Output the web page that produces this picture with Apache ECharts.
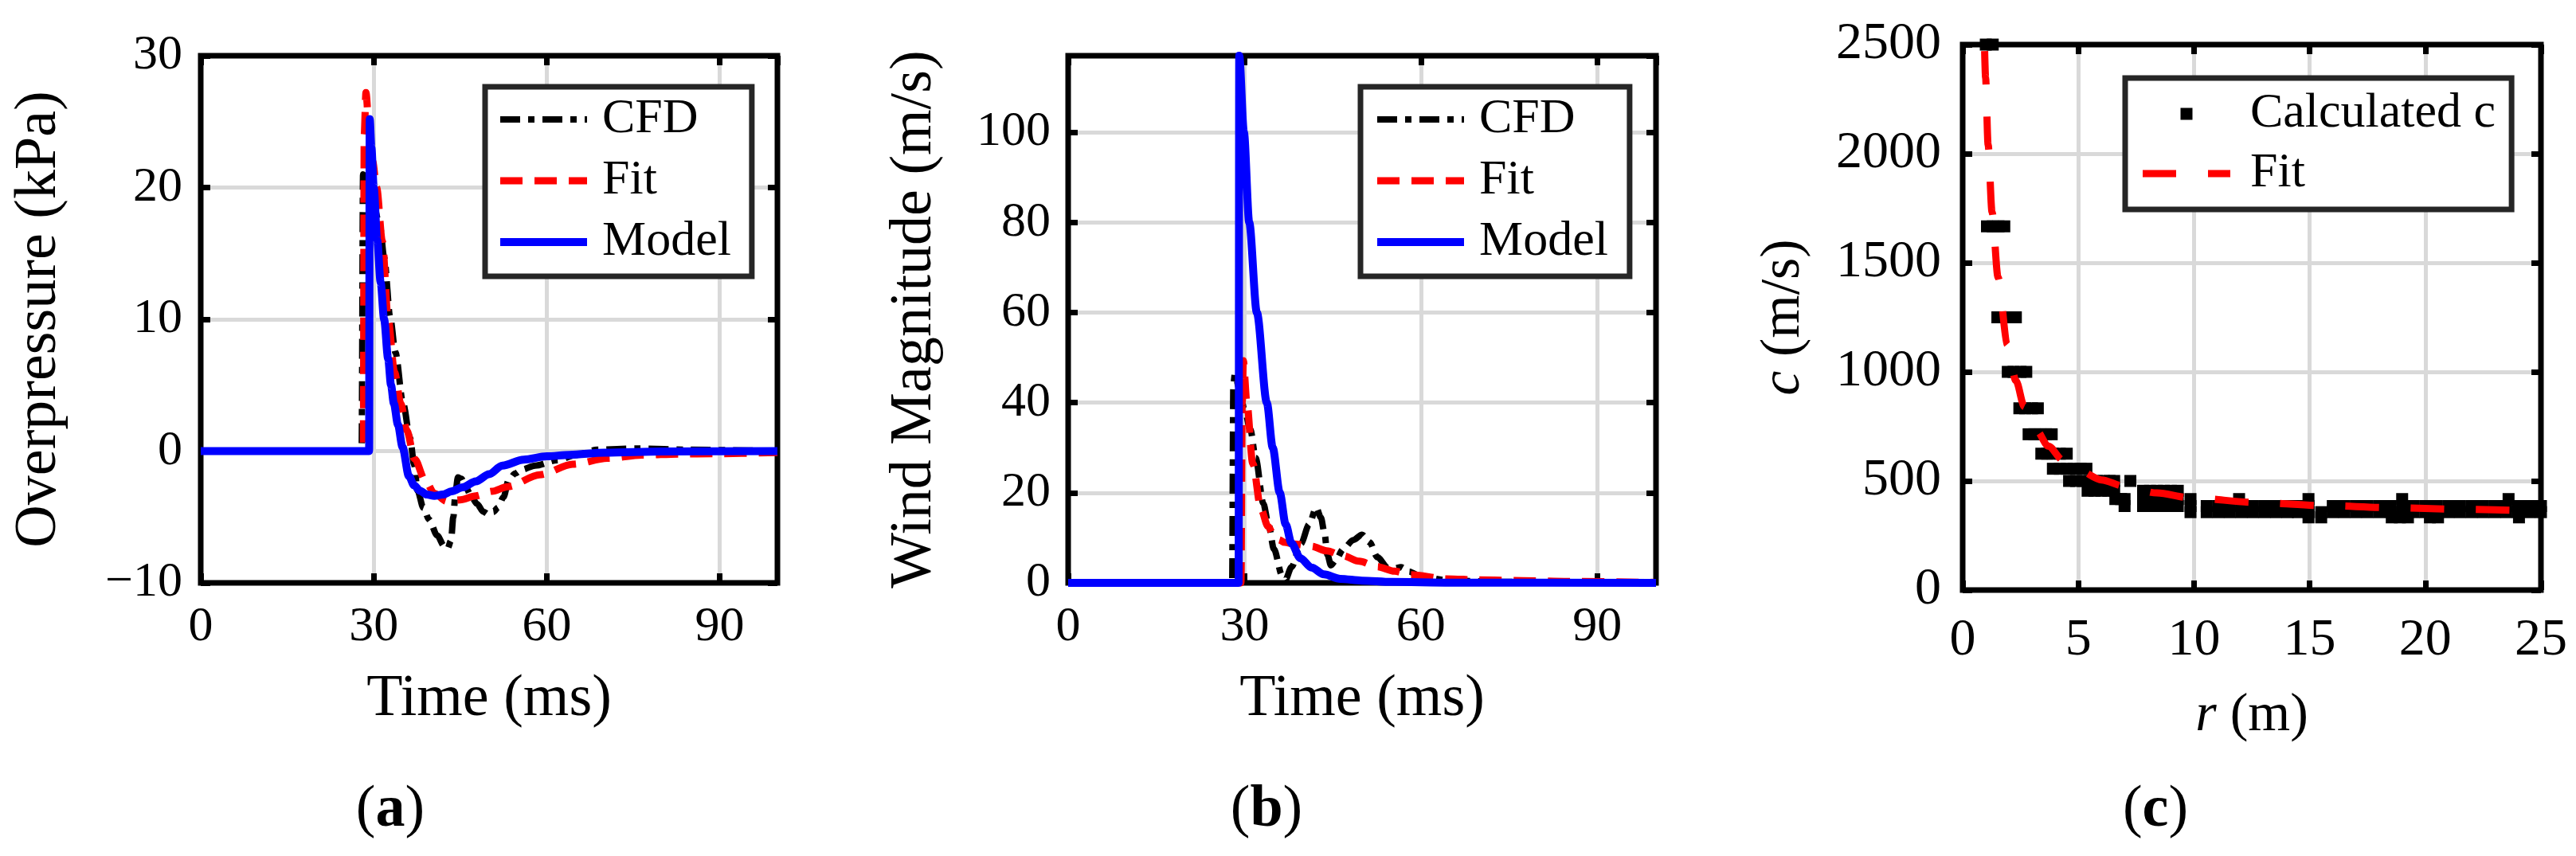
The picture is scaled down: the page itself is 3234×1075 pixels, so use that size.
<!DOCTYPE html>
<html>
<head>
<meta charset="utf-8">
<title>Overpressure, wind magnitude and propagation speed</title>
<script src="https://cdn.jsdelivr.net/npm/echarts@6/dist/echarts.min.js"></script>
<style>
  html, body { margin: 0; padding: 0; background: #fff; }
  #chart { width: 3234px; height: 1075px; }
</style>
</head>
<body>
<div id="chart"></div>
<script>
// (a) overpressure (kPa) against time (ms)
var aCfdT = [0, 27.9, 28.15, 29.0, 30.0, 31.1, 31.8, 32.9, 33.75, 35.1, 36.3, 37.0, 37.6, 38.6, 39.6, 41.0, 42.2, 42.8, 43.4, 43.8, 44.2, 44.6, 45.2, 46.0, 47.0, 47.9, 49.0, 49.9, 50.8, 51.5, 52.5, 53.4, 54.5, 55.7, 58.0, 61.8, 65.0, 68.7, 75.7, 85, 95, 100];
var aCfdV = [0, 0, 21.0, 20.2, 18.6, 17.0, 14.7, 10.0, 7.5, 3.6, 1.0, -1.0, -3.0, -4.3, -5.2, -6.4, -7.2, -7.4, -6.8, -5.0, -3.0, -2.0, -2.1, -2.8, -3.5, -4.0, -4.6, -4.8, -4.6, -4.3, -3.5, -2.2, -1.7, -1.4, -1.1, -0.7, -0.3, 0.1, 0.2, 0.1, 0.05, 0];
var aFitT = [0, 28.2, 28.35, 28.65, 29.2, 29.8, 30.5, 31.5, 32.5, 33.6, 34.7, 35.7, 37.1, 38.9, 40.5, 42.6, 45.0, 47.7, 50.5, 53.2, 58.8, 64.5, 70.5, 76.5, 83, 89, 100];
var aFitV = [0, 0, 24.0, 27.2, 24.5, 22.0, 20.0, 15.9, 10.0, 6.0, 3.6, 1.6, -0.6, -2.2, -3.2, -3.8, -3.7, -3.4, -3.05, -2.7, -1.8, -1.0, -0.55, -0.3, -0.22, -0.2, -0.1];
var aModT = [0, 29.2, 29.3, 29.6, 30.0, 30.6, 31.2, 31.8, 32.5, 33.0, 33.5, 34.2, 35.0, 36.1, 37.0, 38.0, 39.2, 40.5, 42.0, 43.5, 45.4, 47.7, 50.0, 52.3, 56.0, 60.0, 64.0, 70.0, 80.0, 100];
var aModV = [0, 0, 25.2, 23.0, 20.0, 16.0, 12.8, 10.0, 7.0, 5.0, 3.6, 2.0, 0.3, -1.9, -2.6, -3.0, -3.3, -3.4, -3.3, -3.05, -2.75, -2.3, -1.75, -1.1, -0.65, -0.4, -0.28, -0.12, -0.03, 0];

// (b) wind magnitude (m/s) against time (ms)
var bCfdT = [0, 27.9, 28.1, 28.4, 29.0, 30.0, 31.0, 31.9, 33.2, 34.1, 35.0, 36.4, 36.9, 38.0, 39.6, 41.0, 42.2, 43.0, 43.6, 44.1, 44.7, 45.5, 46.8, 48.5, 50.0, 51.3, 52.6, 54.4, 55.5, 56.6, 58.0, 60.1, 65, 75, 85, 100];
var bCfdV = [0, 0, 44, 46.8, 43.5, 38.5, 34.0, 27.7, 17.6, 12.9, 7.5, 1.6, 0.5, 3.5, 8.7, 13.0, 16.7, 14.5, 11.1, 6.3, 3.9, 5.0, 7.5, 9.5, 10.7, 9.0, 5.7, 3.3, 3.2, 3.5, 2.5, 1.3, 0.5, 0.2, 0.1, 0];
var bFitT = [0, 29.4, 29.6, 29.8, 30.4, 31.4, 32.8, 34.0, 35.0, 36.0, 36.8, 38.5, 41.4, 44.0, 46.8, 49.5, 52.6, 55.5, 58.3, 64.4, 70, 77.4, 85, 100];
var bFitV = [0, 0, 40, 49.3, 40.0, 26.5, 16.4, 12.5, 10.5, 9.5, 9.0, 8.6, 8.1, 7.1, 6.0, 4.8, 3.6, 2.6, 1.8, 0.9, 0.65, 0.5, 0.3, 0.1];
var bModT = [0, 29.0, 29.1, 29.9, 30.8, 32.1, 33.8, 34.8, 36.0, 37.0, 38.0, 39.5, 41.4, 43.5, 46.3, 50, 55, 65, 100];
var bModV = [0, 0, 117, 100, 80, 60, 40, 30, 20, 13, 8.75, 5.5, 3.4, 1.9, 0.9, 0.5, 0.2, 0.05, 0];

// (c) calculated c (m/s): one speed level per row, with the radii (m) where it occurs
var calcC = [2500, 1667, 1250, 1000, 833, 714, 625, 556, 500, 455, 417, 385, 357, 333];
var calcR = [
  [1.0, 1.3],
  [1.05, 1.3, 1.55, 1.8],
  [1.5, 1.75, 2.0, 2.3],
  [1.95, 2.2, 2.5, 2.75],
  [2.45, 2.7, 3.0, 3.25],
  [2.85, 3.1, 3.35, 3.6, 3.85],
  [3.4, 3.65, 3.9, 4.2, 4.5],
  [3.9, 4.2, 4.5, 4.8, 5.1, 5.35],
  [4.6, 4.9, 5.2, 5.5, 5.8, 6.1, 6.35, 6.55, 7.25],
  [5.4, 5.7, 6.0, 6.3, 6.55, 7.8, 8.1, 8.4, 8.7, 9.0, 9.3],
  [6.6, 6.85, 7.0, 7.8, 8.1, 8.4, 8.7, 9.0, 9.3, 9.85, 11.95, 14.95, 19.0, 23.6],
  [7.0, 7.8, 8.1, 8.4, 8.7, 9.0, 9.3, 9.85, 10.55, 11.05, 11.55, 12.05, 12.55, 13.05, 13.55, 14.05, 14.5, 14.95, 16.0, 16.5, 17.0, 17.5, 18.0, 18.5, 19.0, 19.5, 20.0, 20.5, 21.0, 21.5, 22.0, 22.5, 23.0, 23.5, 24.0, 24.5, 25.0],
  [9.85, 10.55, 11.05, 11.55, 12.05, 12.55, 13.05, 13.55, 14.05, 14.5, 14.95, 15.5, 16.0, 16.5, 17.0, 17.5, 18.0, 18.5, 19.0, 19.5, 20.0, 20.5, 21.0, 21.5, 22.0, 22.5, 23.0, 23.5, 24.0, 24.5, 25.0],
  [14.95, 15.5, 18.55, 18.9, 19.25, 20.2, 20.55, 24.05]
];
var cFitR = [0.95, 0.99, 1.10, 1.27, 1.53, 1.93, 2.3, 2.67, 3.2, 3.7, 4.34, 5.0, 6.0, 6.98, 8.4, 9.85, 12.72, 15.59, 18.46, 21.5, 25];
var cFitC = [2470, 2348, 2041, 1733, 1433, 1125, 960, 840, 730, 660, 595, 550, 505, 476, 445, 423, 401, 387, 378, 370, 362];

var FONT = "Liberation Serif";
var GREY = "#d9d9d9";

// legend samples drawn as little shapes, same dash rhythm as the lines
var ICON_CFD = "path://M0 0H25V8H0Z M35 0H43V8H35Z M53 0H78V8H53Z M88 0H96V8H88Z M106 0H109V8H106Z";
var ICON_FIT = "path://M0 0H28V9H0Z M43 0H71V9H43Z M86 0H109V9H86Z";
var ICON_MODEL = "path://M0 0H109V10H0Z";
var ICON_FIT_C = "path://M0 0H42V9H0Z M82 0H110V9H82Z";
var ICON_SQUARE = "path://M0 0H10V10H0Z";

function pts(xs, ys) {
    return xs.map(function (x, i) { return [x, ys[i]]; });
}

var calcPts = [];
calcC.forEach(function (c, i) {
    calcR[i].forEach(function (r) { calcPts.push([r, c]); });
});

function minus(v) {
    return String(v).replace("-", "\u2212");
}

// main axis (labels, grid lines, inside ticks)
function mainAxis(grid, pos, min, max, step, o) {
    return {
        type: "value", gridIndex: grid, position: pos,
        min: min, max: max, interval: step,
        name: o.name, nameLocation: "middle", nameGap: o.nameGap,
        nameTextStyle: {
            fontFamily: FONT, fontSize: o.nameSize, color: "#000",
            rich: { i: { fontFamily: FONT, fontSize: o.nameSize, fontStyle: "italic", color: "#000" } }
        },
        axisLine: { show: false, onZero: false },
        axisTick: { show: true, inside: true, length: 12, lineStyle: { color: "#000", width: 7 } },
        axisLabel: {
            fontFamily: FONT, fontSize: o.labelSize, color: "#000", margin: o.margin,
            showMaxLabel: o.maxLabel, formatter: minus
        },
        splitLine: { show: true, showMinLine: false, showMaxLine: false, lineStyle: { color: GREY, width: 5 } }
    };
}

// mirrored axis on the opposite side, ticks only
function tickAxis(grid, pos, min, max, step) {
    return {
        type: "value", gridIndex: grid, position: pos,
        min: min, max: max, interval: step,
        axisLine: { show: false, onZero: false },
        axisTick: { show: true, inside: true, length: 12, lineStyle: { color: "#000", width: 7 } },
        axisLabel: { show: false },
        splitLine: { show: false }
    };
}

function legendBox(left, top, items, o) {
    return {
        orient: "vertical", left: left, top: top, data: items,
        formatter: function (n) { return n.slice(2); },
        selectedMode: false,
        itemWidth: o.itemWidth, itemHeight: o.itemHeight, itemGap: o.itemGap,
        padding: o.padding,
        backgroundColor: "#fff", borderColor: "#262626", borderWidth: 7, borderRadius: 0,
        textStyle: { fontFamily: FONT, fontSize: o.fontSize, lineHeight: o.fontSize, color: "#000", padding: [0, 0, 0, o.textGap] },
        z: 10
    };
}

function lineSeries(name, axis, data, color, width, dash) {
    return {
        type: "line", name: name, xAxisIndex: axis, yAxisIndex: axis, data: data,
        symbol: "none", smooth: 0.3, smoothMonotone: "x", clip: false, silent: true,
        lineStyle: { color: color, width: width, type: dash, cap: "butt", join: "round" },
        itemStyle: { color: color }
    };
}

var chart = echarts.init(document.getElementById("chart"));

var option = {
    backgroundColor: "#fff",
    animation: false,
    grid: [
        { left: 252, top: 70, width: 724, height: 662, show: true, borderColor: "#000", borderWidth: 7, z: 1 },
        { left: 1341, top: 70, width: 738, height: 662, show: true, borderColor: "#000", borderWidth: 7, z: 1 },
        { left: 2464, top: 56, width: 726, height: 685, show: true, borderColor: "#000", borderWidth: 7, z: 1 }
    ],
    xAxis: [
        mainAxis(0, "bottom", 0, 100, 30, { name: "Time (ms)", nameGap: 110, nameSize: 74, labelSize: 62, margin: 25, maxLabel: false }),
        tickAxis(0, "top", 0, 100, 30),
        mainAxis(1, "bottom", 0, 100, 30, { name: "Time (ms)", nameGap: 110, nameSize: 74, labelSize: 62, margin: 25, maxLabel: false }),
        tickAxis(1, "top", 0, 100, 30),
        mainAxis(2, "bottom", 0, 25, 5, { name: "{i|r} (m)", nameGap: 124, nameSize: 68, labelSize: 66, margin: 31, maxLabel: true }),
        tickAxis(2, "top", 0, 25, 5)
    ],
    yAxis: [
        mainAxis(0, "left", -10, 30, 10, { name: "Overpressure (kPa)", nameGap: 165, nameSize: 74, labelSize: 62, margin: 23, maxLabel: true }),
        tickAxis(0, "right", -10, 30, 10),
        mainAxis(1, "left", 0, 117, 20, { name: "Wind Magnitude (m/s)", nameGap: 155, nameSize: 74, labelSize: 62, margin: 22, maxLabel: false }),
        tickAxis(1, "right", 0, 117, 20),
        mainAxis(2, "left", 0, 2500, 500, { name: "{i|c} (m/s)", nameGap: 189, nameSize: 70, labelSize: 66, margin: 27, maxLabel: true }),
        tickAxis(2, "right", 0, 2500, 500)
    ],
    legend: [
        legendBox(609, 109, [
            { name: "a:CFD", icon: ICON_CFD },
            { name: "a:Fit", icon: ICON_FIT },
            { name: "a:Model", icon: ICON_MODEL }
        ], { itemWidth: 109, itemHeight: 10, itemGap: 15, padding: [10, 26, 12, 19], fontSize: 62, textGap: 14 }),
        legendBox(1708, 109, [
            { name: "b:CFD", icon: ICON_CFD },
            { name: "b:Fit", icon: ICON_FIT },
            { name: "b:Model", icon: ICON_MODEL }
        ], { itemWidth: 109, itemHeight: 10, itemGap: 15, padding: [10, 27, 12, 21], fontSize: 62, textGap: 14 }),
        legendBox(2668, 98, [
            { name: "c:Calculated c", icon: ICON_SQUARE },
            { name: "c:Fit", icon: ICON_FIT_C }
        ], { itemWidth: 110, itemHeight: 15, itemGap: 13, padding: [14, 20, 14, 22], fontSize: 62, textGap: 20 })
    ],
    graphic: [
        { type: "text", x: 490, y: 1018, style: { text: "({b|a})", fontFamily: FONT, fontSize: 74, fill: "#000", align: "center", verticalAlign: "middle", rich: { b: { fontFamily: FONT, fontSize: 74, fontWeight: "bold", fill: "#000" } } } },
        { type: "text", x: 1590, y: 1018, style: { text: "({b|b})", fontFamily: FONT, fontSize: 74, fill: "#000", align: "center", verticalAlign: "middle", rich: { b: { fontFamily: FONT, fontSize: 74, fontWeight: "bold", fill: "#000" } } } },
        { type: "text", x: 2706, y: 1018, style: { text: "({b|c})", fontFamily: FONT, fontSize: 74, fill: "#000", align: "center", verticalAlign: "middle", rich: { b: { fontFamily: FONT, fontSize: 74, fontWeight: "bold", fill: "#000" } } } }
    ],
    series: [
        lineSeries("a:CFD", 0, pts(aCfdT, aCfdV), "#000", 8, [25, 10, 8, 10]),
        lineSeries("a:Fit", 0, pts(aFitT, aFitV), "#ff0000", 9, [28, 15]),
        lineSeries("a:Model", 0, pts(aModT, aModV), "#0000ff", 10, "solid"),
        lineSeries("b:CFD", 2, pts(bCfdT, bCfdV), "#000", 8, [25, 10, 8, 10]),
        lineSeries("b:Fit", 2, pts(bFitT, bFitV), "#ff0000", 9, [28, 15]),
        lineSeries("b:Model", 2, pts(bModT, bModV), "#0000ff", 10, "solid"),
        {
            type: "scatter", name: "c:Calculated c", xAxisIndex: 4, yAxisIndex: 4, data: calcPts,
            symbol: "rect", symbolSize: 15, clip: false, silent: true,
            itemStyle: { color: "#000", opacity: 1 }
        },
        lineSeries("c:Fit", 4, pts(cFitR, cFitC), "#ff0000", 9, [42, 40])
    ]
};

chart.setOption(option);
</script>
</body>
</html>
